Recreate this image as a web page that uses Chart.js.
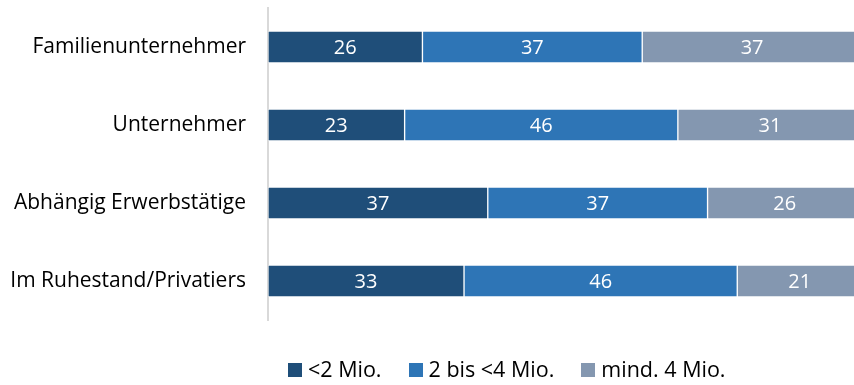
<!DOCTYPE html>
<html>
<head>
<meta charset="utf-8">
<script src="https://cdn.jsdelivr.net/npm/chart.js@4"></script>
<style>
  html, body { margin: 0; padding: 0; background: #fff; overflow: hidden; }
  #wrap { position: relative; width: 862px; height: 385px; }
  #legende {
    position: absolute; left: 288px; top: 355px;
    display: flex; font-family: "Open Sans", sans-serif; font-size: 21.5px; color: #000;
    line-height: 28px;
  }
  #legende span { display: flex; align-items: center; margin-right: 27px; }
  #legende i { display: inline-block; width: 14px; height: 14px; margin-right: 6px; margin-top: 2px; }
</style>
</head>
<body>
<div id="wrap">
  <canvas id="myChart" width="862" height="385"></canvas>
  <div id="legende"></div>
</div>
<script>
const grafico = document.getElementById("myChart");
const gruppen = ['Familienunternehmer', 'Unternehmer', 'Abhängig Erwerbstätige', 'Im Ruhestand/Privatiers'];
const serien = ['<2 Mio.', '2 bis <4 Mio.', 'mind. 4 Mio.'];
const unter2 = [26, 23, 37, 33];
const zweiBis4 = [37, 46, 37, 46];
const ab4 = [37, 31, 26, 21];
const farben = ['#1F4E79', '#2E75B6', '#8497B0'];

// Werte mittig in die Segmente schreiben
const werteLabels = {
    id: 'werteLabels',
    afterDatasetsDraw(chart) {
        const ctx = chart.ctx;
        ctx.save();
        ctx.fillStyle = '#fff';
        ctx.font = '20px "Open Sans"';
        ctx.textAlign = 'center';
        ctx.textBaseline = 'middle';
        chart.data.datasets.forEach((ds, i) => {
            chart.getDatasetMeta(i).data.forEach((bar, j) => {
                ctx.fillText(ds.data[j], (bar.x + bar.base) / 2, bar.y + 1);
            });
        });
        ctx.restore();
    }
};

const reihen = [unter2, zweiBis4, ab4];

const myChart = new Chart(grafico, {
    type: 'bar',
    data: {
        labels: gruppen,
        datasets: reihen.map((werte, i) => ({
            label: serien[i],
            data: werte,
            backgroundColor: farben[i],
            borderColor: 'rgba(255, 255, 255, 0.45)',
            borderWidth: 1,
            borderSkipped: false,
            barThickness: 32
        }))
    },
    options: {
        indexAxis: 'y',
        responsive: false,
        animation: false,
        layout: { padding: { top: 8, bottom: 65, left: 0, right: 0 } },
        plugins: {
            legend: { display: false },
            tooltip: { enabled: false }
        },
        scales: {
            x: {
                stacked: true,
                min: 0,
                max: 100,
                display: false
            },
            y: {
                stacked: true,
                grid: { display: false, drawTicks: false },
                border: { color: '#d9d9d9', width: 2 },
                ticks: {
                    color: '#000',
                    padding: 22,
                    font: { family: 'Open Sans', size: 21 }
                },
                afterFit(scale) {
                    scale.width = 268;
                    scale.paddingTop = 0;
                    scale.paddingBottom = 0;
                }
            }
        }
    },
    plugins: [werteLabels]
});

const legende = document.getElementById('legende');
serien.forEach((name, i) => {
    const s = document.createElement('span');
    s.innerHTML = '<i style="background:' + farben[i] + '"></i>';
    s.appendChild(document.createTextNode(name));
    legende.appendChild(s);
});
</script>
</body>
</html>
